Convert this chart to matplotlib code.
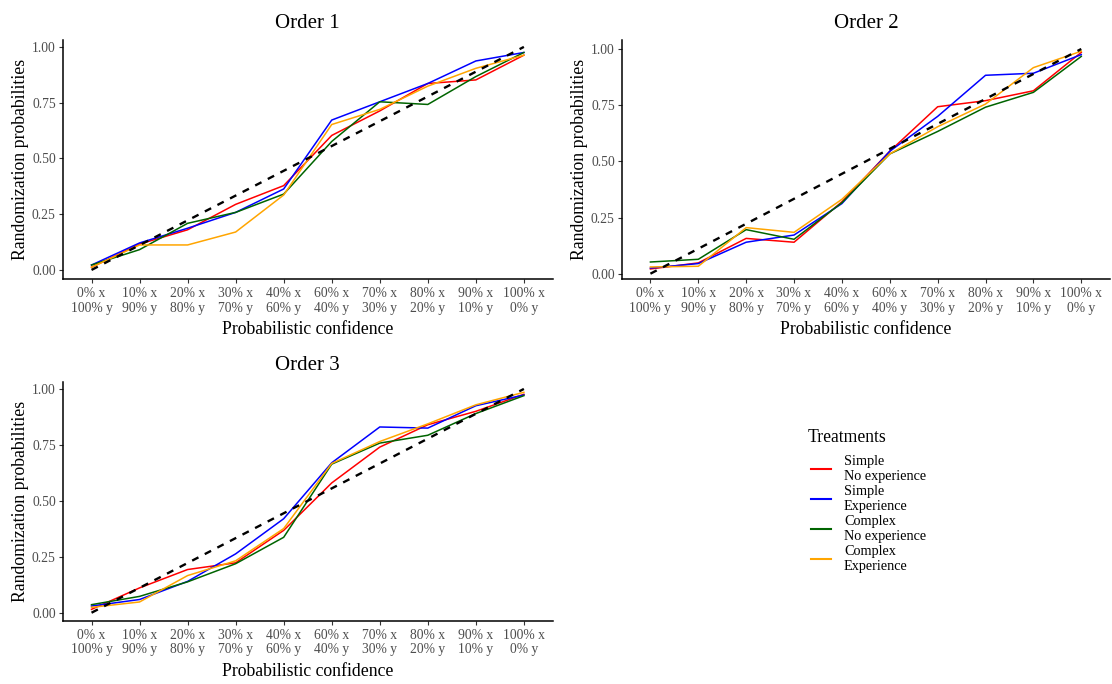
import numpy as np
import matplotlib.pyplot as plt
from matplotlib.lines import Line2D

plt.rcParams['font.family'] = ['Liberation Serif', 'DejaVu Serif']

# confidence levels on the x axis (x share / y share)
levels = ['0% x\n100% y', '10% x\n90% y', '20% x\n80% y', '30% x\n70% y', '40% x\n60% y',
          '60% x\n40% y', '70% x\n30% y', '80% x\n20% y', '90% x\n10% y', '100% x\n0% y']

treatments = ['Simple\nNo experience', 'Simple\nExperience',
              'Complex\nNo experience', 'Complex\nExperience']
colors = ['#FF0000', '#0000FF', '#006400', '#FFA500']

# randomization probabilities, one list per treatment, per order
order1_simple_noexp = [0.012, 0.116, 0.180, 0.294, 0.378, 0.603, 0.713, 0.836, 0.852, 0.963]
order1_simple_exp = [0.022, 0.121, 0.187, 0.258, 0.363, 0.672, 0.754, 0.836, 0.937, 0.975]
order1_complex_noexp = [0.022, 0.091, 0.209, 0.258, 0.340, 0.576, 0.754, 0.742, 0.867, 0.975]
order1_complex_exp = [0.012, 0.112, 0.112, 0.170, 0.336, 0.652, 0.720, 0.824, 0.904, 0.963]

order2_simple_noexp = [0.021, 0.048, 0.157, 0.140, 0.320, 0.545, 0.743, 0.770, 0.814, 0.985]
order2_simple_exp = [0.025, 0.045, 0.140, 0.172, 0.312, 0.545, 0.700, 0.883, 0.892, 0.975]
order2_complex_noexp = [0.052, 0.064, 0.196, 0.153, 0.316, 0.533, 0.633, 0.741, 0.807, 0.967]
order2_complex_exp = [0.030, 0.033, 0.205, 0.184, 0.331, 0.533, 0.654, 0.755, 0.917, 0.990]

order3_simple_noexp = [0.015, 0.111, 0.193, 0.223, 0.368, 0.580, 0.740, 0.840, 0.900, 0.976]
order3_simple_exp = [0.030, 0.059, 0.140, 0.263, 0.420, 0.670, 0.830, 0.825, 0.925, 0.973]
order3_complex_noexp = [0.036, 0.073, 0.138, 0.219, 0.337, 0.664, 0.758, 0.793, 0.890, 0.970]
order3_complex_exp = [0.024, 0.048, 0.166, 0.232, 0.376, 0.667, 0.765, 0.844, 0.929, 0.985]

# reference diagonal from first to last level
ref_line = [0.0, 1.0]

orders = [
    ('Order 1', [order1_simple_noexp, order1_simple_exp, order1_complex_noexp, order1_complex_exp], (-0.042, 1.031)),
    ('Order 2', [order2_simple_noexp, order2_simple_exp, order2_complex_noexp, order2_complex_exp], (-0.025, 1.040)),
    ('Order 3', [order3_simple_noexp, order3_simple_exp, order3_complex_noexp, order3_complex_exp], (-0.037, 1.031)),
]

W, H = 1112, 684
fig = plt.figure(figsize=(W / 100, H / 100), dpi=100)

# panel boxes in pixels: left, top, right, bottom
boxes = [(62.7, 40, 552.7, 279.3), (621.7, 40, 1110, 279.3), (62.7, 382, 552.7, 621)]

x = np.arange(len(levels))
for (title, series, ylim), (l, t, r, b) in zip(orders, boxes):
    ax = fig.add_axes([l / W, 1 - b / H, (r - l) / W, (b - t) / H])
    for vals, c in zip(series, colors):
        ax.plot(x, vals, color=c, lw=1.1)
    ax.plot([x[0], x[-1]], ref_line, color='black', lw=1.7, ls=(0, (3, 3)))
    ax.set_xlim(-0.6, len(levels) - 0.4)
    ax.set_ylim(*ylim)
    ax.set_xticks(x)
    ax.set_xticklabels(levels, fontsize=9.8, color='#4D4D4D', linespacing=1.15)
    ax.set_yticks([0, 0.25, 0.5, 0.75, 1.0])
    ax.set_yticklabels(['0.00', '0.25', '0.50', '0.75', '1.00'], fontsize=9.8, color='#4D4D4D')
    ax.tick_params(length=2.75, width=0.8, color='#333333', pad=2.2)
    ax.tick_params(axis='x', pad=3)
    for s in ['top', 'right']:
        ax.spines[s].set_visible(False)
    for s in ['left', 'bottom']:
        ax.spines[s].set_linewidth(1.1)
    ax.set_title(title, fontsize=15, pad=9)
    ax.set_xlabel('Probabilistic confidence', fontsize=12.8, labelpad=4.5)
    ax.set_ylabel('Randomization probabilities', fontsize=12.8, labelpad=2)

# legend: title drawn on its own so the gap above the keys can be set
fig.text(808 / W, 1 - 437 / H, 'Treatments', fontsize=12.7, ha='left', va='center')
handles = [Line2D([], [], color=c, lw=1.5) for c in colors]
leg = fig.legend(handles, treatments, loc='upper left',
                 bbox_to_anchor=(804 / W, 1 - 448 / H), frameon=False,
                 fontsize=10.3, handlelength=1.4, handletextpad=0.9,
                 labelspacing=0.13, borderpad=0)
for txt in leg.get_texts():
    txt.set_linespacing(1.2)

fig.savefig('out.png', dpi=100)
